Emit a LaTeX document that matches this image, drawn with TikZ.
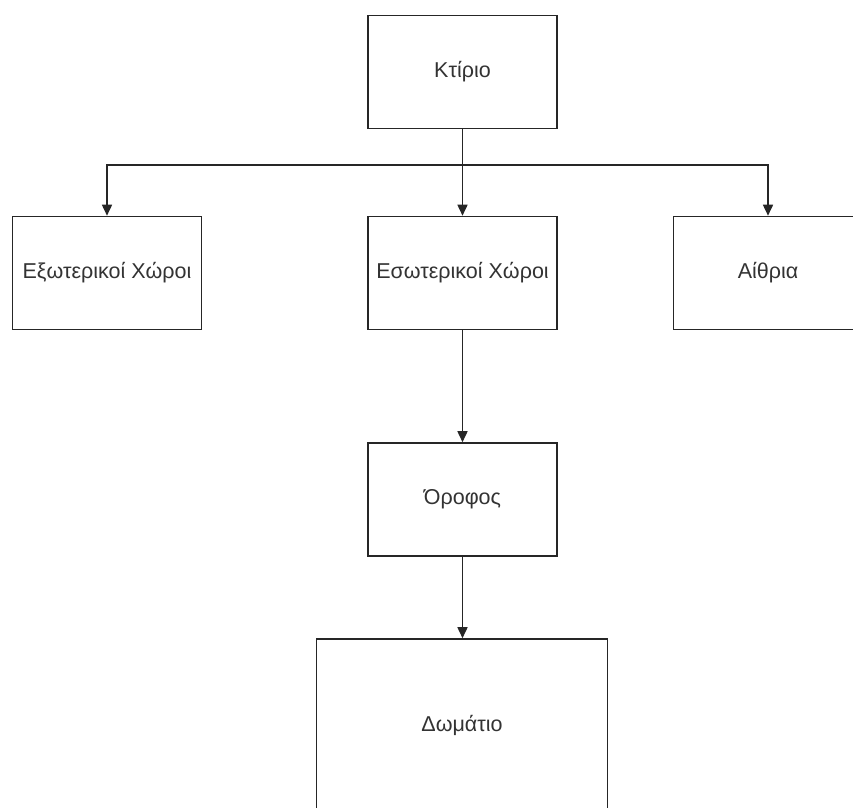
\documentclass[tikz,border=0pt]{standalone}
\usepackage{fontspec}
\setmainfont{Liberation Sans}
\usetikzlibrary{arrows.meta}

\begin{document}
\begin{tikzpicture}[x=1pt, y=-1pt,
    box/.style={draw=black!85, line width=1.6pt, fill=white, rectangle,
        minimum width=189pt, minimum height=113pt, font=\fontsize{21.5}{25}\selectfont, text=black!80},
    arr/.style={draw=black!85, line width=1.6pt, -{Triangle[length=11pt,width=10pt]}}]
\clip (0,0) rectangle (853,807);
\fill[white] (0,0) rectangle (853,807);
% the building and its parts
\node[box] (ktirio) at (462.5,72) {Κτίριο};
\node[box] (exo) at (107,273) {Εξωτερικοί Χώροι};
\node[box] (eso) at (462.5,273) {Εσωτερικοί Χώροι};
\node[box] (aithria) at (768,273) {Αίθρια};
\node[box] (orofos) at (462.5,499.5) {Όροφος};
\node[box, minimum width=291pt, minimum height=172pt] (domatio) at (462,725) {Δωμάτιο};
\coordinate (split) at (462.5,165);
\draw[draw=black!85, line width=1.6pt] (ktirio.south) -- (split);
\foreach \part in {exo, eso, aithria} {
    \draw[arr] (split) -| (\part.north);
}
\draw[arr] (eso.south) -- (orofos.north);
\draw[arr] (orofos.south) -- (orofos.south |- domatio.north);
\end{tikzpicture}
\end{document}
